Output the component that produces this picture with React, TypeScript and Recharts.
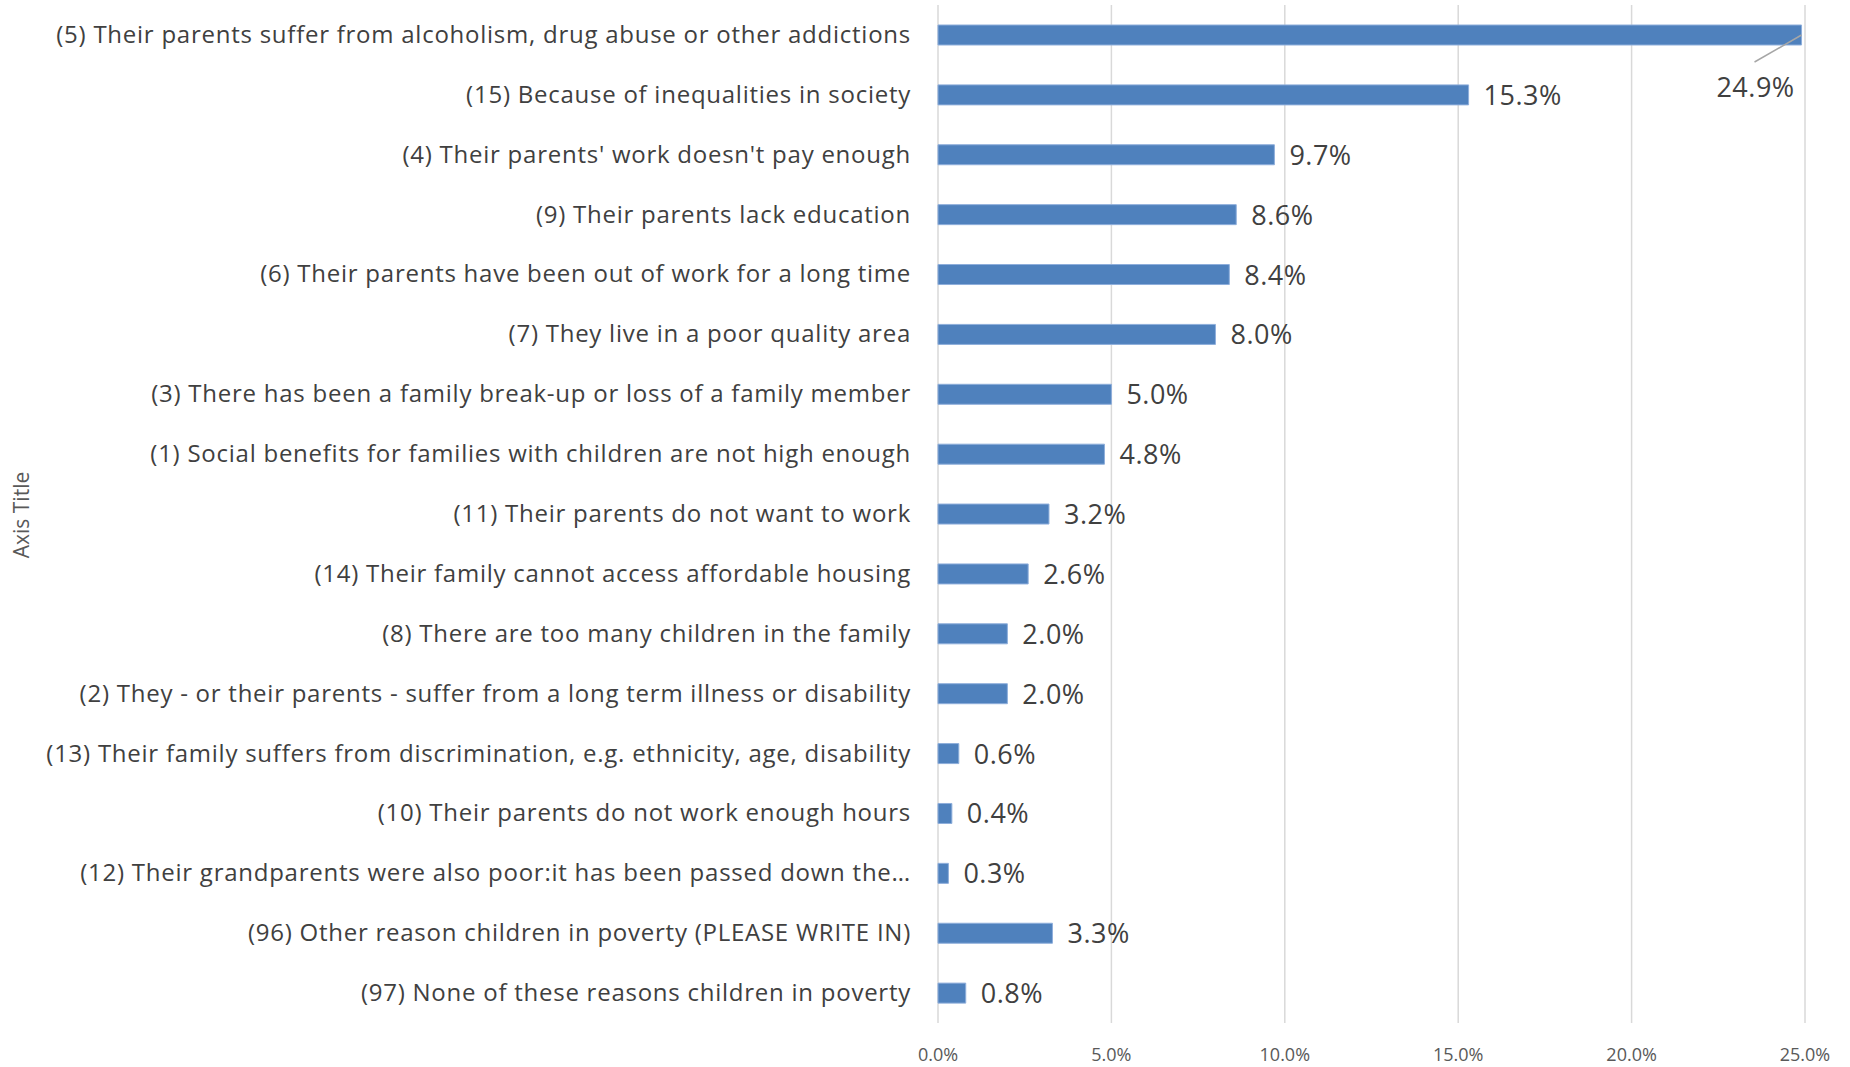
import { BarChart, Bar, XAxis, YAxis, CartesianGrid, LabelList } from "recharts";

const reasons = [
  "(5) Their parents suffer from alcoholism, drug abuse or other addictions",
  "(15) Because of inequalities in society",
  "(4) Their parents' work doesn't pay enough",
  "(9) Their parents lack education",
  "(6) Their parents have been out of work for a long time",
  "(7) They live in a poor quality area",
  "(3) There has been a family break-up or loss of a family member",
  "(1) Social benefits for families with children are not high enough",
  "(11) Their parents do not want to work",
  "(14) Their family cannot access affordable housing",
  "(8) There are too many children in the family",
  "(2) They - or their parents - suffer from a long term illness or disability",
  "(13) Their family suffers from discrimination, e.g. ethnicity, age, disability",
  "(10) Their parents do not work enough hours",
  "(12) Their grandparents were also poor:it has been passed down the…",
  "(96) Other reason children in poverty (PLEASE WRITE IN)",
  "(97) None of these reasons children in poverty",
];

const shares = [0.249, 0.153, 0.097, 0.086, 0.084, 0.08, 0.05, 0.048, 0.032, 0.026, 0.02, 0.02, 0.006, 0.004, 0.003, 0.033, 0.008];

const xTicks = [0, 0.05, 0.1, 0.15, 0.2, 0.25];

const data = reasons.map((r, i) => ({ reason: r, share: shares[i] }));

const FONT = "'Open Sans', Lato, sans-serif";
const pct = (v: number) => (v * 100).toFixed(1) + "%";

function CategoryTick(props: any) {
  const { x, y, payload } = props;
  return (
    <text x={x} y={y} dy={8} textAnchor="end" fill="#404040" fontSize={24} letterSpacing={0.75} fontFamily={FONT}>
      {payload.value}
    </text>
  );
}

function ValueLabel(props: any) {
  const { x, y, width, height, value, index } = props;
  if (index === 0) {
    // biggest bar: label pulled below the bar with a leader line
    const ex = x + width;
    const cy = y + height / 2;
    return (
      <g>
        <line x1={ex} y1={cy} x2={ex - 47} y2={cy + 27} stroke="#a6a6a6" strokeWidth={1.5} />
        <text x={ex - 46} y={cy + 53} dy={9} textAnchor="middle" fill="#404040" fontSize={27} letterSpacing={0.5} fontFamily={FONT}>
          {pct(value)}
        </text>
      </g>
    );
  }
  return (
    <text x={x + width + 15} y={y + height / 2} dy={10} textAnchor="start" fill="#404040" fontSize={27} letterSpacing={0.5} fontFamily={FONT}>
      {pct(value)}
    </text>
  );
}

export default function App() {
  return (
    <div style={{ position: "absolute", left: 0, top: 0, width: 1850, height: 1067, background: "#fff" }}>
      <BarChart
        width={1850}
        height={1067}
        data={data}
        layout="vertical"
        barCategoryGap="33%"
        margin={{ top: 5, right: 45, left: 0, bottom: 0 }}
      >
        <CartesianGrid horizontal={false} stroke="#d9d9d9" strokeWidth={1.5} />
        <XAxis
          type="number"
          domain={[0, 0.25]}
          ticks={xTicks}
          tickFormatter={pct}
          axisLine={false}
          tickLine={false}
          height={44}
          tick={{ fill: "#595959", fontSize: 18, fontFamily: FONT, dy: 17 }}
        />
        <YAxis
          type="category"
          dataKey="reason"
          width={938}
          axisLine={false}
          tickLine={false}
          tickMargin={21}
          interval={0}
          tick={<CategoryTick />}
        />
        <Bar dataKey="share" fill="#4F81BD" stroke="#8eaedb" strokeWidth={1} barSize={20} isAnimationActive={false}>
          <LabelList dataKey="share" content={<ValueLabel />} />
        </Bar>
      </BarChart>
      <div
        style={{
          position: "absolute",
          left: 21,
          top: 515,
          transform: "translate(-50%, -50%) rotate(-90deg)",
          fontFamily: FONT,
          fontSize: 21,
          color: "#595959",
          whiteSpace: "nowrap",
        }}
      >
        Axis Title
      </div>
    </div>
  );
}
